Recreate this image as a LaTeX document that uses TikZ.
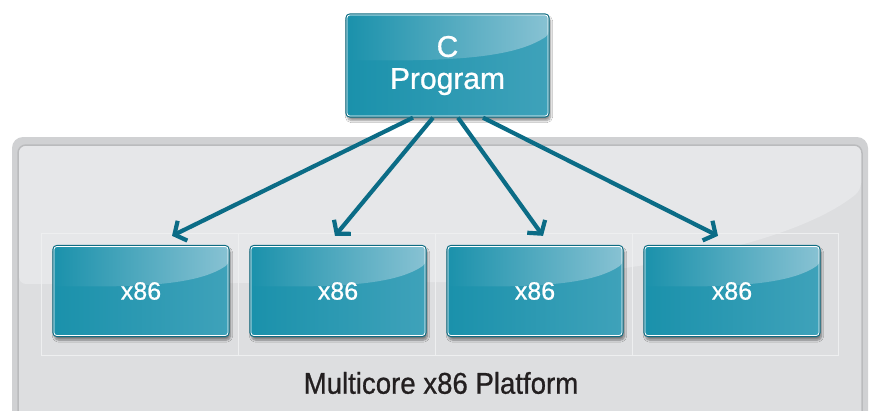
\documentclass[tikz,border=0pt]{standalone}
\usepackage{fontspec}
\setmainfont{Liberation Sans}
\newfontfamily\boxfont{Liberation Sans}[FakeBold=0.8]
\newfontfamily\narrowfont{Liberation Sans}[FakeStretch=0.92,FakeBold=0.8]
\usetikzlibrary{arrows.meta,calc,shadows,shadows.blur,positioning}

\definecolor{coreteal}{HTML}{1A91AB}
\definecolor{corelight}{HTML}{3FA2BA}
\definecolor{glosshi}{HTML}{88C2D3}
\definecolor{coreedge}{HTML}{0F6C82}
\definecolor{flowteal}{HTML}{0B6C86}
\definecolor{plateedge}{HTML}{D0D1D3}
\definecolor{plateline}{HTML}{BABBBD}
\definecolor{platefill}{HTML}{DDDEE0}
\definecolor{plategloss}{HTML}{E6E7E9}
\definecolor{cellline}{HTML}{EEEFF0}
\definecolor{labelgray}{HTML}{231F20}

\tikzset{
  glossy/.style={rounded corners=4pt, draw=coreedge, line width=1.3pt,
    left color=coreteal, right color=corelight, text=white, align=center,
    blur shadow={shadow xshift=1.5pt, shadow yshift=-3.5pt,
      shadow opacity=45, shadow blur steps=8},
    path picture={
      \shade[left color=coreteal, right color=glosshi]
        let \p1=(path picture bounding box.north west),
            \p2=(path picture bounding box.south east) in
        (\p1) -- (\x2,\y1) -- (\x2,{\y1+0.2*(\y2-\y1)})
        .. controls ({\x1+0.85*(\x2-\x1)},{\y1+0.4*(\y2-\y1)})
               and ({\x1+0.6*(\x2-\x1)},{\y1+0.44*(\y2-\y1)}) ..
        ({\x1+0.3*(\x2-\x1)},{\y1+0.45*(\y2-\y1)})
        -- (\x1,{\y1+0.45*(\y2-\y1)}) -- cycle;
    }},
  inset/.style={draw=white, line width=0.8pt, rounded corners=3pt},
  core/.style={glossy, minimum width=176pt, minimum height=91pt,
    font=\boxfont\fontsize{25}{27}\selectfont},
  flow/.style={->, line width=4.2pt, draw=flowteal},
}

\begin{document}
\begin{tikzpicture}[x=1pt,y=-1pt,>={Straight Barb[length=9pt,width=22pt]}]
  \useasboundingbox (0,0) rectangle (870,410);
  \fill[white] (0,0) rectangle (870,410);

  % Platform frame
  \fill[plateedge, rounded corners=11pt] (12,137) rectangle (868,440);
  \draw[plateline, line width=1.5pt, fill=platefill, rounded corners=8pt]
    (18,145) rectangle (862,440);
  \fill[plategloss, rounded corners=7pt]
    (19,146) -- (861,146) -- (861,190)
    .. controls (800,240) and (650,276) .. (450,282) -- (19,284) -- cycle;

  % Cell grid behind the cores
  \draw[cellline, line width=0.8pt] (41,233) rectangle (838,355);
  \foreach \x in {238,435,632}
    \draw[cellline, line width=0.8pt] (\x,233) -- (\x,355);

  % Cores
  \foreach \n/\x in {1/141,2/338,3/535,4/732} {
    \node[core] (cpu\n) at (\x,291) {x86};
    \draw[inset] ([shift={(1.6pt,-1.6pt)}]cpu\n.north west)
      rectangle ([shift={(-1.6pt,1.6pt)}]cpu\n.south east);
  }

  % Program on top
  \node[glossy, minimum width=203pt, minimum height=103pt,
    font=\boxfont\fontsize{30}{32}\selectfont] (prog) at (447.5,65.5) {C\\Program};
  \draw[inset] ([shift={(1.6pt,-1.6pt)}]prog.north west)
    rectangle ([shift={(-1.6pt,1.6pt)}]prog.south east);

  % Program spread onto the cores
  \draw[flow] ([xshift=-34.5pt]prog.south) -- ([xshift=31pt,yshift=9pt]cpu1.north);
  \draw[flow] ([xshift=-14.5pt]prog.south) -- ([xshift=-3pt,yshift=9pt]cpu2.north);
  \draw[flow] ([xshift=10.5pt]prog.south) -- ([xshift=8pt,yshift=9pt]cpu3.north);
  \draw[flow] ([xshift=35.5pt]prog.south) -- ([xshift=-14pt,yshift=9pt]cpu4.north);

  \node[text=labelgray, font=\narrowfont\fontsize{30}{32}\selectfont]
    (platform) at (441,383) {Multicore x86 Platform};
\end{tikzpicture}
\end{document}
